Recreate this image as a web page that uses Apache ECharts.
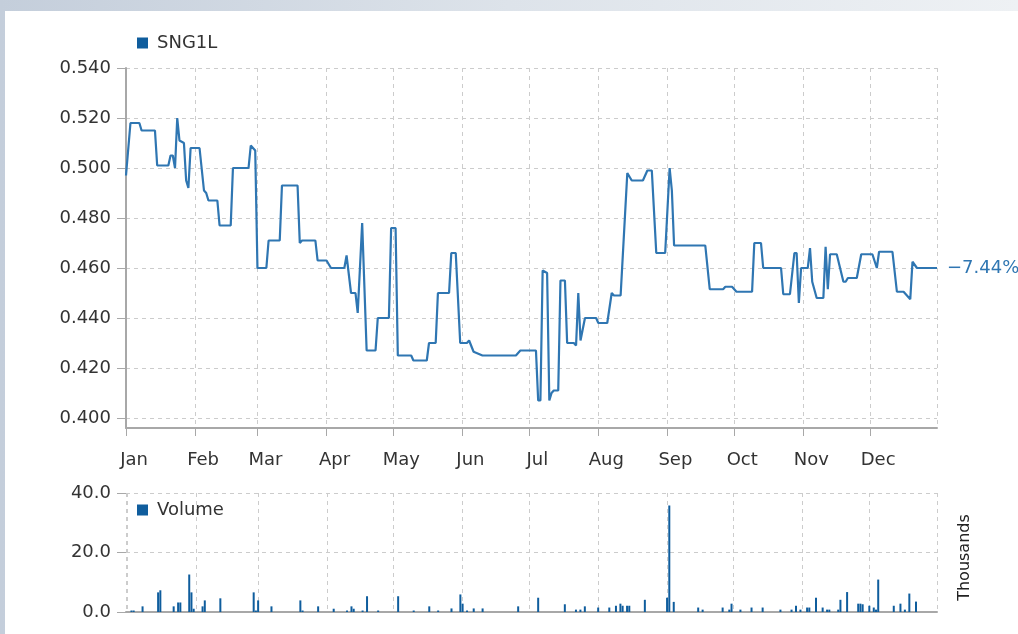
<!DOCTYPE html>
<html>
<head>
<meta charset="utf-8">
<script src="https://cdn.jsdelivr.net/npm/echarts@6/dist/echarts.min.js"></script>
<style>
  html, body { margin: 0; padding: 0; width: 1018px; height: 634px; overflow: hidden;
    background: linear-gradient(90deg, #c4cedb 0%, #dde3ea 50%, #eef1f4 100%); }
  #panel { position: absolute; left: 5px; top: 11px; right: 0; bottom: 0; background: #ffffff; }
  #chart { position: absolute; left: 0; top: 0; width: 1018px; height: 634px; }
</style>
</head>
<body>
<div id="panel"></div>
<div id="chart"></div>
<script>
const YEAR = '2015';
const MONTH_LABELS = ['Jan','Feb','Mar','Apr','May','Jun','Jul','Aug','Sep','Oct','Nov','Dec'];
const PRICE_NAME = 'SNG1L';
const VOLUME_NAME = 'Volume';
const VOLUME_UNIT = 'Thousands';

const PRICE_DATES = ['01-01','01-03','01-07','01-08','01-14','01-15','01-20','01-21','01-22','01-23','01-24','01-25','01-27','01-28','01-29','01-30',
  '02-03','02-05','02-06','02-07','02-11','02-12','02-17','02-18','02-25','02-26','02-28',
  '03-01','03-05','03-06','03-11','03-12','03-19','03-20','03-21','03-27','03-28',
  '04-01','04-03','04-09','04-10','04-12','04-14','04-15','04-17','04-19','04-23','04-24','04-29','04-30',
  '05-02','05-03','05-09','05-10','05-16','05-17','05-20','05-21','05-26','05-27','05-29','05-31',
  '06-03','06-04','06-06','06-10','06-25','06-27',
  '07-04','07-05','07-06','07-07','07-09','07-10','07-11','07-12','07-14','07-15','07-17','07-18','07-21','07-22','07-23','07-24','07-26','07-31',
  '08-01','08-05','08-07','08-08','08-11','08-14','08-16','08-21','08-23','08-25','08-27','08-31',
  '09-02','09-03','09-04','09-18','09-20','09-26','09-27','09-30',
  '10-02','10-09','10-10','10-13','10-14','10-22','10-23','10-26','10-28','10-29','10-30','10-31',
  '11-03','11-04','11-05','11-07','11-10','11-11','11-12','11-13','11-16','11-19','11-20','11-21','11-25','11-27',
  '12-02','12-04','12-05','12-11','12-13','12-16','12-19','12-20','12-22','12-31'];
const PRICE_VALUES = [0.497,0.518,0.518,0.515,0.515,0.501,0.501,0.505,0.505,0.500,0.520,0.511,0.510,0.495,0.492,0.508,
  0.508,0.491,0.490,0.487,0.487,0.477,0.477,0.500,0.500,0.509,0.507,
  0.460,0.460,0.471,0.471,0.493,0.493,0.470,0.471,0.471,0.463,
  0.463,0.460,0.460,0.465,0.450,0.450,0.442,0.478,0.427,0.427,0.440,0.440,0.476,
  0.476,0.425,0.425,0.423,0.423,0.430,0.430,0.450,0.450,0.466,0.466,0.430,
  0.430,0.431,0.4265,0.425,0.425,0.427,
  0.427,0.407,0.407,0.459,0.458,0.407,0.410,0.411,0.411,0.455,0.455,0.430,0.430,0.429,0.450,0.431,0.440,0.440,
  0.438,0.438,0.450,0.449,0.449,0.498,0.495,0.495,0.499,0.499,0.466,0.466,
  0.500,0.491,0.469,0.469,0.4515,0.4515,0.4525,0.4525,
  0.4505,0.4505,0.470,0.470,0.460,0.460,0.4495,0.4495,0.466,0.466,0.446,0.460,
  0.460,0.468,0.4545,0.448,0.448,0.4685,0.4515,0.4655,0.4655,0.4545,0.4545,0.456,0.456,0.4655,
  0.4655,0.460,0.4665,0.4665,0.4505,0.4505,0.4475,0.4625,0.460,0.460];

const VOLUME_DATES = ['01-03','01-04','01-08','01-15','01-16','01-22','01-24','01-25','01-29','01-30','01-31',
  '02-04','02-05','02-12','02-27','02-28','03-01','03-07','03-20','03-21','03-28',
  '04-04','04-10','04-12','04-13','04-17','04-19','04-24','05-03','05-10','05-17','05-21','05-27','05-31',
  '06-01','06-03','06-06','06-10','06-26','07-05','07-17','07-22','07-24','07-26',
  '08-01','08-06','08-09','08-11','08-12','08-14','08-15','08-22','09-01','09-02','09-04','09-15','09-17','09-26','09-29','09-30',
  '10-04','10-09','10-14','10-22','10-27','10-29','10-31','11-03','11-04','11-07','11-10','11-12','11-13','11-17','11-18','11-21',
  '11-26','11-27','11-28','12-01','12-03','12-04','12-05','12-12','12-15','12-17','12-19','12-22'];
const VOLUME_VALUES = [0.5,0.5,1.9,6.6,7.3,1.9,3.2,3.2,12.6,6.6,1.1,
  1.9,3.9,4.6,6.6,0.5,3.9,1.9,3.9,0.5,1.9,
  1.1,0.5,1.9,1.1,0.5,5.3,0.5,5.3,0.5,1.9,0.5,1.2,5.9,
  2.8,0.5,1.2,1.2,1.9,4.8,2.6,0.8,0.8,1.9,
  1.5,1.5,2.1,2.8,2.1,2.1,2.1,4.1,4.8,35.8,3.4,1.5,0.8,1.5,0.8,2.8,
  0.8,1.5,1.5,0.8,0.8,2.1,0.8,1.5,1.5,4.8,1.5,0.8,0.8,0.8,4.1,6.7,
  2.8,2.8,2.6,2.1,1.5,0.8,10.9,2.1,2.8,0.8,6.2,3.5];

const X_MIN = YEAR + '-01-01';
const X_MAX = YEAR + '-12-31';

const priceData = PRICE_DATES.map((d, i) => [YEAR + '-' + d, PRICE_VALUES[i]]);
const volumeData = VOLUME_DATES.map((d, i) => [YEAR + '-' + d, VOLUME_VALUES[i]]);
const firstP = PRICE_VALUES[0], lastP = PRICE_VALUES[PRICE_VALUES.length - 1];
const pct = (lastP / firstP - 1) * 100;
const changeLabel = (pct < 0 ? '\u2212' : '+') + Math.abs(pct).toFixed(2) + '%';

const FONT = 'DejaVu Sans';
const TXT = '#333333';
const AXIS = '#a8a8a8';
const GRIDC = '#cccccc';
const LINE = '#2f76b2';
const BAR = '#0f5d9d';
const DAY = 86400000;

const chart = echarts.init(document.getElementById('chart'), null, { renderer: 'canvas' });
const dashed = { show: true, lineStyle: { color: GRIDC, type: [4, 4], width: 1 } };

chart.setOption({
  animation: false,
  textStyle: { fontFamily: FONT },
  legend: [
    { data: [PRICE_NAME], left: 137, top: 34, padding: 0, itemWidth: 11, itemHeight: 11, icon: 'rect',
      selectedMode: false, textStyle: { fontFamily: FONT, fontSize: 18, color: TXT, padding: [0, 0, 0, 4] } },
    { data: [VOLUME_NAME], left: 137, top: 501, padding: 0, itemWidth: 11, itemHeight: 11, icon: 'rect',
      selectedMode: false, textStyle: { fontFamily: FONT, fontSize: 18, color: TXT, padding: [0, 0, 0, 4] } }
  ],
  grid: [
    { left: 126, top: 68, width: 811, height: 360 },
    { left: 126, top: 493, width: 811, height: 119 }
  ],
  xAxis: [
    { type: 'time', gridIndex: 0, min: X_MIN, max: X_MAX, splitNumber: 12,
      minInterval: 28 * DAY, maxInterval: 31 * DAY,
      axisLine: { show: true, onZero: false, lineStyle: { color: AXIS, width: 2 } },
      axisTick: { show: true, length: 8, lineStyle: { color: AXIS, width: 1 } },
      axisLabel: { show: true, color: TXT, fontSize: 18, fontFamily: FONT, margin: 23, padding: [0, 0, 0, 16],
        showMinLabel: true, showMaxLabel: false, hideOverlap: false,
        formatter: (v) => MONTH_LABELS[new Date(v).getMonth()] },
      splitLine: dashed },
    { type: 'time', gridIndex: 1, min: X_MIN, max: X_MAX, splitNumber: 12,
      minInterval: 28 * DAY, maxInterval: 31 * DAY,
      axisLine: { show: true, onZero: false, lineStyle: { color: AXIS, width: 2 } },
      axisTick: { show: false }, axisLabel: { show: false },
      splitLine: dashed }
  ],
  yAxis: [
    { type: 'value', gridIndex: 0, min: 0.396, max: 0.54, splitNumber: 7, scale: true,
      axisLine: { show: true, lineStyle: { color: AXIS, width: 2 } },
      axisTick: { show: true, length: 9, lineStyle: { color: AXIS } },
      axisLabel: { color: TXT, fontSize: 18, fontFamily: FONT, margin: 15, showMinLabel: false,
        formatter: (v) => v.toFixed(3) },
      splitLine: dashed },
    { type: 'value', gridIndex: 1, min: 0, max: 40, interval: 20,
      axisLine: { show: false },
      axisTick: { show: true, length: 9, lineStyle: { color: AXIS } },
      axisLabel: { color: TXT, fontSize: 18, fontFamily: FONT, margin: 15,
        formatter: (v) => v.toFixed(1) },
      splitLine: dashed },
    { type: 'value', gridIndex: 1, position: 'right', min: 0, max: 40,
      name: VOLUME_UNIT, nameLocation: 'middle', nameRotate: 90, nameGap: 20,
      nameTextStyle: { color: '#222', fontSize: 16, fontFamily: FONT, padding: [0, 10, 0, 0] },
      axisLine: { show: false }, axisTick: { show: false }, axisLabel: { show: false }, splitLine: { show: false } }
  ],
  series: [
    { name: PRICE_NAME, type: 'line', xAxisIndex: 0, yAxisIndex: 0, data: priceData,
      symbol: 'none', color: BAR, lineStyle: { color: LINE, width: 2.2 },
      endLabel: { show: true, formatter: () => changeLabel, color: LINE, fontSize: 18, fontFamily: FONT, distance: 10 } },
    { name: VOLUME_NAME, type: 'bar', xAxisIndex: 1, yAxisIndex: 1, data: volumeData,
      barWidth: 2, itemStyle: { color: BAR } }
  ]
});
</script>
</body>
</html>
